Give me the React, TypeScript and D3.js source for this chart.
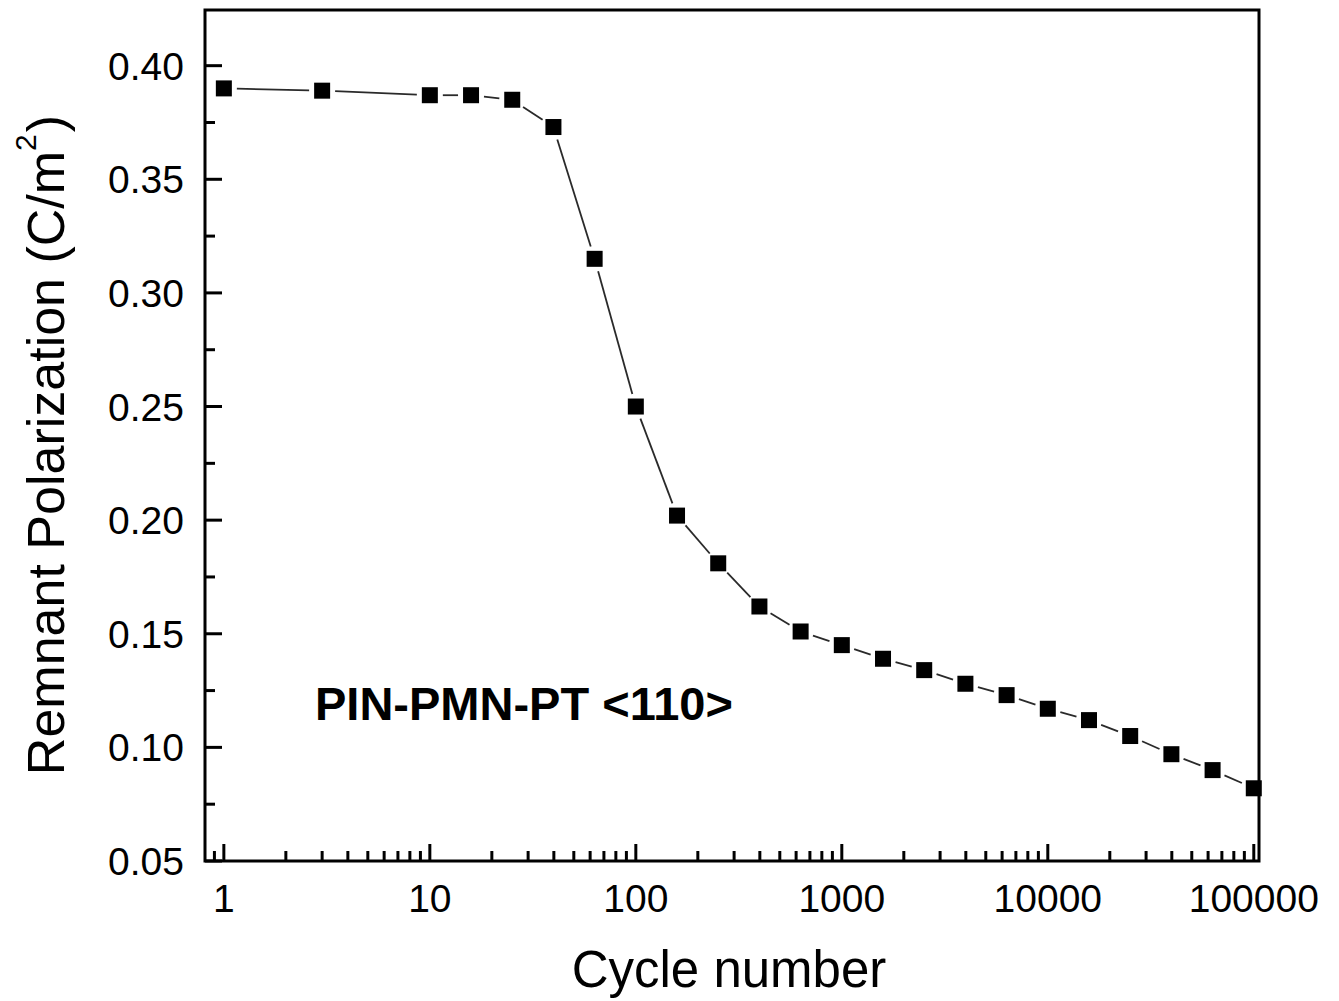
import React from "react";
import * as d3 from "d3";

const cycles: number[] = [
  1, 3, 10, 15.85, 25.12, 39.81, 63.1, 100, 158.5, 251.2, 398.1, 631, 1000,
  1585, 2512, 3981, 6310, 10000, 15849, 25119, 39811, 63096, 100000,
];
const polarization: number[] = [
  0.39, 0.389, 0.387, 0.387, 0.385, 0.373, 0.315, 0.25, 0.202, 0.181, 0.162,
  0.151, 0.145, 0.139, 0.134, 0.128, 0.123, 0.117, 0.112, 0.105, 0.097, 0.09,
  0.082,
];
const yTicks: number[] = [0.05, 0.1, 0.15, 0.2, 0.25, 0.3, 0.35, 0.4];
const yTickLabels: string[] = ["0.05", "0.10", "0.15", "0.20", "0.25", "0.30", "0.35", "0.40"];
const xTicks: number[] = [1, 10, 100, 1000, 10000, 100000];
const xTickLabels: string[] = ["1", "10", "100", "1000", "10000", "100000"];
const annotation = "PIN-PMN-PT <110>";

const W = 1339;
const H = 1001;
const L = 205, R = 1259, T = 10, B = 861;
const FONT = "Liberation Sans, Arial, Helvetica, sans-serif";

export default function App() {
  const x = d3.scaleLog().domain([0.81, 1.06e5]).range([L, R]);
  const y = d3.scaleLinear().domain([0.05, 0.4245]).range([B, T]);

  const xMinor: number[] = [];
  for (let e = -1; e <= 4; e++) {
    for (let m = 2; m <= 9; m++) {
      const v = m * Math.pow(10, e);
      if (v >= 0.81 && v <= 1.06e5) xMinor.push(v);
    }
  }
  const yMinor: number[] = [];
  for (let i = 0; i < yTicks.length; i++) {
    const v = yTicks[i] + 0.025;
    if (v <= 0.4245) yMinor.push(v);
  }

  const pts = cycles.map((c, i) => [x(c), y(polarization[i])] as [number, number]);
  const gap = 13;
  const segs: { x1: number; y1: number; x2: number; y2: number }[] = [];
  for (let i = 0; i < pts.length - 1; i++) {
    const [ax, ay] = pts[i];
    const [bx, by] = pts[i + 1];
    const dx = bx - ax, dy = by - ay;
    const len = Math.hypot(dx, dy);
    if (len <= 2 * gap) continue;
    const ux = dx / len, uy = dy / len;
    segs.push({ x1: ax + ux * gap, y1: ay + uy * gap, x2: bx - ux * gap, y2: by - uy * gap });
  }

  const ms = 16;

  return (
    <svg width={W} height={H} style={{ position: "absolute", left: 0, top: 0, background: "#fff" }}>
      <rect x={0} y={0} width={W} height={H} fill="#fff" />
      {segs.map((s, i) => (
        <line key={"s" + i} x1={s.x1} y1={s.y1} x2={s.x2} y2={s.y2} stroke="#2a2a2a" strokeWidth={1.8} />
      ))}
      {pts.map(([px, py], i) => (
        <rect key={"m" + i} x={px - ms / 2} y={py - ms / 2} width={ms} height={ms} fill="#000" />
      ))}
      {xTicks.map((t) => (
        <line key={"xt" + t} x1={x(t)} x2={x(t)} y1={B} y2={B - 17} stroke="#000" strokeWidth={3} />
      ))}
      {xMinor.map((t) => (
        <line key={"xm" + t} x1={x(t)} x2={x(t)} y1={B} y2={B - 10} stroke="#000" strokeWidth={3} />
      ))}
      {yTicks.map((t) => (
        <line key={"yt" + t} x1={L} x2={L + 17} y1={y(t)} y2={y(t)} stroke="#000" strokeWidth={3} />
      ))}
      {yMinor.map((t) => (
        <line key={"ym" + t} x1={L} x2={L + 10} y1={y(t)} y2={y(t)} stroke="#000" strokeWidth={3} />
      ))}
      <rect x={L} y={T} width={R - L} height={B - T} fill="none" stroke="#000" strokeWidth={3} />
      {xTicks.map((t, i) => (
        <text key={"xl" + t} x={x(t)} y={912} textAnchor="middle" fontFamily={FONT} fontSize={39} fill="#000">
          {xTickLabels[i]}
        </text>
      ))}
      {yTicks.map((t, i) => (
        <text key={"yl" + t} x={184} y={y(t)} dy="0.36em" textAnchor="end" fontFamily={FONT} fontSize={39} fill="#000">
          {yTickLabels[i]}
        </text>
      ))}
      <text x={729} y={987} textAnchor="middle" fontFamily={FONT} fontSize={51} fill="#000">
        Cycle number
      </text>
      <text
        transform={`translate(64,445) rotate(-90)`}
        textAnchor="middle"
        fontFamily={FONT}
        fontSize={52}
        fill="#000"
      >
        Remnant Polarization (C/m
        <tspan fontSize={30} dy={-28}>2</tspan>
        <tspan dy={28} dx={2}>)</tspan>
      </text>
      <text x={315} y={720} fontFamily={FONT} fontSize={47} fontWeight="bold" fill="#000">
        {annotation}
      </text>
    </svg>
  );
}
